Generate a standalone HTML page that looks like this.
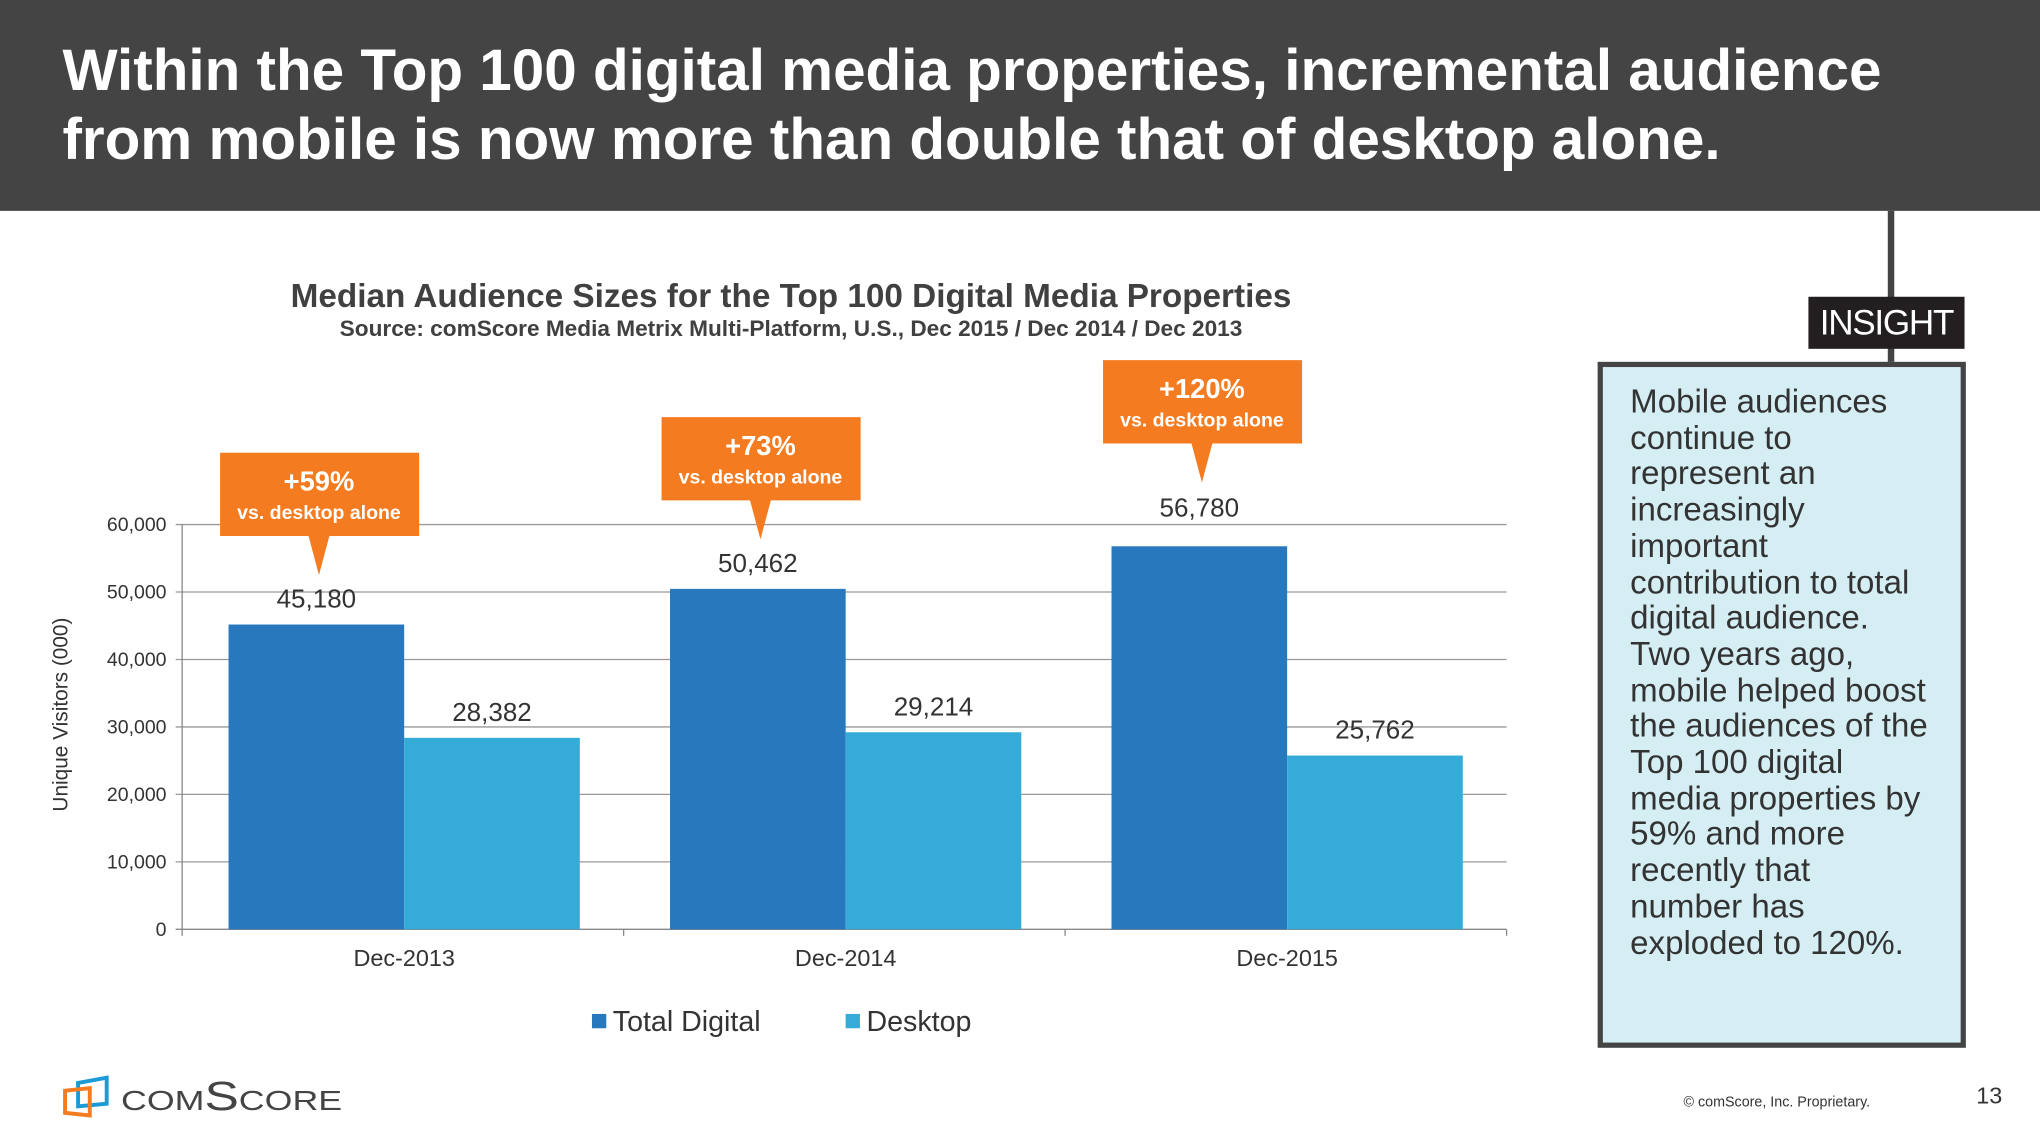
<!DOCTYPE html>
<html><head><meta charset="utf-8"><style>
body{margin:0;width:2040px;height:1148px;overflow:hidden;background:#fff;font-family:"Liberation Sans",Arial,sans-serif}
#s{position:absolute;left:0;top:0;width:1568px;height:882px;transform:scale(1.30102,1.30159);transform-origin:0 0}
.a{position:absolute}
</style></head><body>
<div id="s">
<div class="a" style="left:0;top:0;width:1568px;height:162px;background:#444"></div>
<div class="a" style="left:48px;top:27px;color:#fff;font-weight:bold;font-size:44.9px;line-height:53px;white-space:nowrap">Within the Top 100 digital media properties, incremental audience<br>from mobile is now more than double that of desktop alone.</div>
<div class="a" style="left:1451px;top:162px;width:5px;height:118px;background:#444"></div>
<div class="a" style="left:1390px;top:228px;width:120px;height:40px;background:#231f20;color:#fff;font-size:27px;line-height:40px;text-align:center;letter-spacing:-1px">INSIGHT</div>
<div class="a" style="left:1228px;top:278px;width:275px;height:519px;border:4px solid #444;background:#d5eef4"></div>
<div class="a" style="left:1253px;top:296px;width:250px;white-space:nowrap;color:#333;font-size:25.4px;line-height:27.7px">Mobile audiences<br>continue to<br>represent an<br>increasingly<br>important<br>contribution to total<br>digital audience.<br>Two years ago,<br>mobile helped boost<br>the audiences of the<br>Top 100 digital<br>media properties by<br>59% and more<br>recently that<br>number has<br>exploded to 120%.</div>
<svg class="a" style="left:0;top:0" width="1568" height="882">
<text x="608" y="236" text-anchor="middle" font-size="25.6" font-weight="bold" fill="#404040">Median Audience Sizes for the Top 100 Digital Media Properties</text>
<text x="608" y="258" text-anchor="middle" font-size="17.4" font-weight="bold" fill="#404040">Source: comScore Media Metrix Multi-Platform, U.S., Dec 2015 / Dec 2014 / Dec 2013</text>
<text transform="translate(52,549) rotate(-90)" text-anchor="middle" font-size="16" fill="#333">Unique Visitors (000)</text>
<g id="g"></g>
<rect x="455" y="779" width="11" height="11" fill="#2878bd"/>
<text x="471" y="792" font-size="22" fill="#333">Total Digital</text>
<rect x="650" y="779" width="11" height="11" fill="#35acd8"/>
<text x="666" y="792" font-size="22" fill="#333">Desktop</text>
<g>
<polygon points="60,832 82,828 82,848 60,850" fill="none" stroke="#1a9ad6" stroke-width="3"/>
<polygon points="50,838 69,836 69,857 50,855" fill="none" stroke="#f47b20" stroke-width="3"/>
<text x="93" y="853" font-family="Liberation Sans,sans-serif" font-size="31" fill="#444" font-variant="small-caps" textLength="170" lengthAdjust="spacingAndGlyphs">comScore</text>
</g>
<text x="1294" y="850" font-size="11" fill="#333">© comScore, Inc. Proprietary.</text>
<text x="1519" y="848" font-size="18" fill="#333">13</text>
</svg>
</div>
<script>
const categories=["Dec-2013","Dec-2014","Dec-2015"];
const totalDigital=[45180,50462,56780];
const desktop=[28382,29214,25762];
const yTicks=[0,10000,20000,30000,40000,50000,60000];
const callouts=["+59%","+73%","+120%"];
const calloutGap=[38,38,49];
const labelGap=[13,13,23];
const X0=140,X1=1158,Y0=714,Y60=403;
const y=v=>Y0-(v/60000)*(Y0-Y60);
const band=(X1-X0)/categories.length;
const cx=i=>X0+band*(i+0.5);
const NS="http://www.w3.org/2000/svg";
const g=document.getElementById('g');
function mk(t,a,txt){const e=document.createElementNS(NS,t);for(const k in a)e.setAttribute(k,a[k]);if(txt!=null)e.textContent=txt;g.appendChild(e);return e;}
const fmt=v=>v.toLocaleString('en-US');
yTicks.forEach(v=>{
 const l=mk('line',{x1:X0-5,x2:X1,y1:y(v),y2:y(v),stroke:v?'#999':'#888','stroke-width':1});
 
 
 const t=mk('text',{x:128,y:y(v)+5,'text-anchor':'end','font-size':15,fill:'#333'},fmt(v));
 
 
});
mk('line',{x1:X0,x2:X0,y1:Y60,y2:Y0,stroke:'#888'});
for(let i=0;i<=categories.length;i++){mk('line',{x1:X0+band*i,x2:X0+band*i,y1:Y0,y2:Y0+5,stroke:'#888'});}
const bw=135;
categories.forEach((c,i)=>{
 const c0=cx(i)+1;
 const b1=mk('rect',{x:c0-bw,y:y(totalDigital[i]),width:bw,height:Y0-y(totalDigital[i]),fill:'#2878bd'});
 
 
 const b2=mk('rect',{x:c0,y:y(desktop[i]),width:bw,height:Y0-y(desktop[i]),fill:'#35acd8'});
 
 
 const l1=mk('text',{x:c0-bw/2,y:y(totalDigital[i])-labelGap[i],'text-anchor':'middle','font-size':20,fill:'#333'},fmt(totalDigital[i]));
 
 
 const l2=mk('text',{x:c0+bw/2,y:y(desktop[i])-13,'text-anchor':'middle','font-size':20,fill:'#333'},fmt(desktop[i]));
 
 
 const xl=mk('text',{x:c0,y:742,'text-anchor':'middle','font-size':18,fill:'#333'},c);
 
 
 const tx=c0-bw/2+2, tip=y(totalDigital[i])-calloutGap[i], bt=tip-30, bh=64;
 const cg=mk('polygon',{points:`${tx-76},${bt-bh} ${tx+77},${bt-bh} ${tx+77},${bt} ${tx+8},${bt} ${tx},${tip} ${tx-8},${bt} ${tx-76},${bt}`,fill:'#f47b20'});
 
 
 const ct=mk('text',{x:tx,y:bt-bh+29,'text-anchor':'middle','font-size':21,'font-weight':'bold',fill:'#fff'},callouts[i]);
 
 
 const cs=mk('text',{x:tx,y:bt-bh+51,'text-anchor':'middle','font-size':15,'font-weight':'bold',fill:'#fff'},'vs. desktop alone');
 
 
});
</script>
</body></html>
